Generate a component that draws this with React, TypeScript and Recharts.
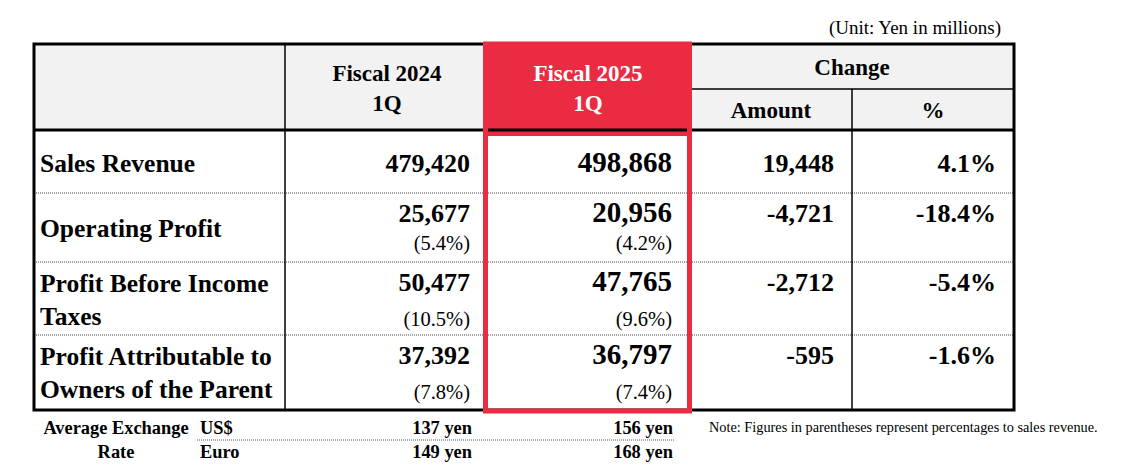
import React from "react"
import { Surface, Layer, Rectangle, Text } from "recharts"

// table contents
const rowLabels = [
  ["Sales Revenue"],
  ["Operating Profit"],
  ["Profit Before Income", "Taxes"],
  ["Profit Attributable to", "Owners of the Parent"],
]
const fy2024 = ["479,420", "25,677", "50,477", "37,392"]
const fy2024Ratio = ["", "(5.4%)", "(10.5%)", "(7.8%)"]
const fy2025 = ["498,868", "20,956", "47,765", "36,797"]
const fy2025Ratio = ["", "(4.2%)", "(9.6%)", "(7.4%)"]
const changeAmount = ["19,448", "-4,721", "-2,712", "-595"]
const changePct = ["4.1%", "-18.4%", "-5.4%", "-1.6%"]

const currencies = ["US$", "Euro"]
const rate2024 = ["137 yen", "149 yen"]
const rate2025 = ["156 yen", "168 yen"]

const FONT = '"Liberation Serif", "Times New Roman", serif'
const RED = "#ea2b42"

// layout
const L = 34
const R = 1014
const TOP = 44
const HEAD = 130
const BOTTOM = 410
const colX = [L, 285, 483, 692, 852, R]
const rowY = [HEAD, 193, 262, 335, BOTTOM]

function T({ x, y, anchor = "start", size = 20, bold = false, fill = "#000", children }: any) {
  return (
    <Text
      x={x}
      y={y}
      textAnchor={anchor}
      verticalAnchor="end"
      fontSize={size}
      fontWeight={bold ? 700 : 400}
      fontFamily={FONT}
      fill={fill}
    >
      {children}
    </Text>
  )
}

export default function App() {
  return (
    <div style={{ position: "absolute", left: 0, top: 0, width: 1126, height: 467, background: "#fff" }}>
      <Surface width={1126} height={467} viewBox={{ x: 0, y: 0, width: 1126, height: 467 }}>
        <T x={1001} y={34} anchor="end" size={19}>(Unit: Yen in millions)</T>

        {/* header background */}
        <Rectangle x={L} y={TOP} width={R - L} height={HEAD - TOP} fill="#f2f2f2" />
        <Rectangle x={colX[2]} y={TOP} width={colX[3] - colX[2]} height={HEAD - TOP + 6} fill={RED} />

        {/* grid */}
        <Layer>
          {rowY.slice(1, 4).map((y) => (
            <line key={y} x1={L} x2={R} y1={y} y2={y} stroke="#444" strokeWidth={1} strokeDasharray="1 1" />
          ))}
          <line x1={colX[1]} x2={colX[1]} y1={TOP} y2={BOTTOM} stroke="#000" strokeWidth={1.5} />
          <line x1={colX[4]} x2={colX[4]} y1={89} y2={BOTTOM} stroke="#000" strokeWidth={1.5} />
          <line x1={colX[3]} x2={R} y1={89} y2={89} stroke="#000" strokeWidth={1.5} />
          <line x1={L} x2={R} y1={HEAD} y2={HEAD} stroke="#000" strokeWidth={3} />
          <rect x={L} y={TOP} width={R - L} height={BOTTOM - TOP} fill="none" stroke="#000" strokeWidth={3} />
          <rect x={colX[2] + 2.5} y={TOP} width={colX[3] - colX[2] - 5} height={BOTTOM - TOP + 1} fill="none" stroke={RED} strokeWidth={5} />
        </Layer>

        {/* header text */}
        <T x={387} y={81} anchor="middle" size={23} bold>Fiscal 2024</T>
        <T x={387} y={111} anchor="middle" size={23} bold>1Q</T>
        <T x={588} y={81} anchor="middle" size={23} bold fill="#fff">Fiscal 2025</T>
        <T x={588} y={111} anchor="middle" size={23} bold fill="#fff">1Q</T>
        <T x={852} y={75} anchor="middle" size={23} bold>Change</T>
        <T x={771} y={118} anchor="middle" size={23} bold>Amount</T>
        <T x={933} y={118} anchor="middle" size={23} bold>%</T>

        {/* body */}
        {rowLabels.map((lines, i) => {
          const top = rowY[i]
          const twoLine = lines.length > 1
          const hasRatio = fy2024Ratio[i] !== ""
          const valY = hasRatio ? top + 29 : top + 42
          return (
            <Layer key={i}>
              {lines.map((s, j) => (
                <T key={j} x={40} y={twoLine ? top + 30 + j * 33 : hasRatio ? top + 44 : top + 42} size={25.5} bold>
                  {s}
                </T>
              ))}
              <T x={470} y={valY} anchor="end" size={26} bold>{fy2024[i]}</T>
              <T x={672} y={valY} anchor="end" size={29} bold>{fy2025[i]}</T>
              <T x={834} y={valY} anchor="end" size={26} bold>{changeAmount[i]}</T>
              <T x={996} y={valY} anchor="end" size={26} bold>{changePct[i]}</T>
              {hasRatio && (
                <>
                  <T x={470} y={top + (twoLine ? 64 : 57)} anchor="end" size={20.5}>{fy2024Ratio[i]}</T>
                  <T x={672} y={top + (twoLine ? 64 : 57)} anchor="end" size={20.5}>{fy2025Ratio[i]}</T>
                </>
              )}
            </Layer>
          )
        })}

        {/* exchange rates */}
        <T x={116} y={434} anchor="middle" size={18.4} bold>Average Exchange</T>
        <T x={116} y={458} anchor="middle" size={18.4} bold>Rate</T>
        <line x1={197} x2={674} y1={440} y2={440} stroke="#555" strokeWidth={1} strokeDasharray="1 1" />
        {currencies.map((c, i) => (
          <Layer key={c}>
            <T x={200} y={434 + i * 24} size={18.4} bold>{c}</T>
            <T x={472} y={434 + i * 24} anchor="end" size={18.4} bold>{rate2024[i]}</T>
            <T x={673} y={434 + i * 24} anchor="end" size={18.4} bold>{rate2025[i]}</T>
          </Layer>
        ))}
        <T x={709} y={432} size={14.3}>Note: Figures in parentheses represent percentages to sales revenue.</T>
      </Surface>
    </div>
  )
}
